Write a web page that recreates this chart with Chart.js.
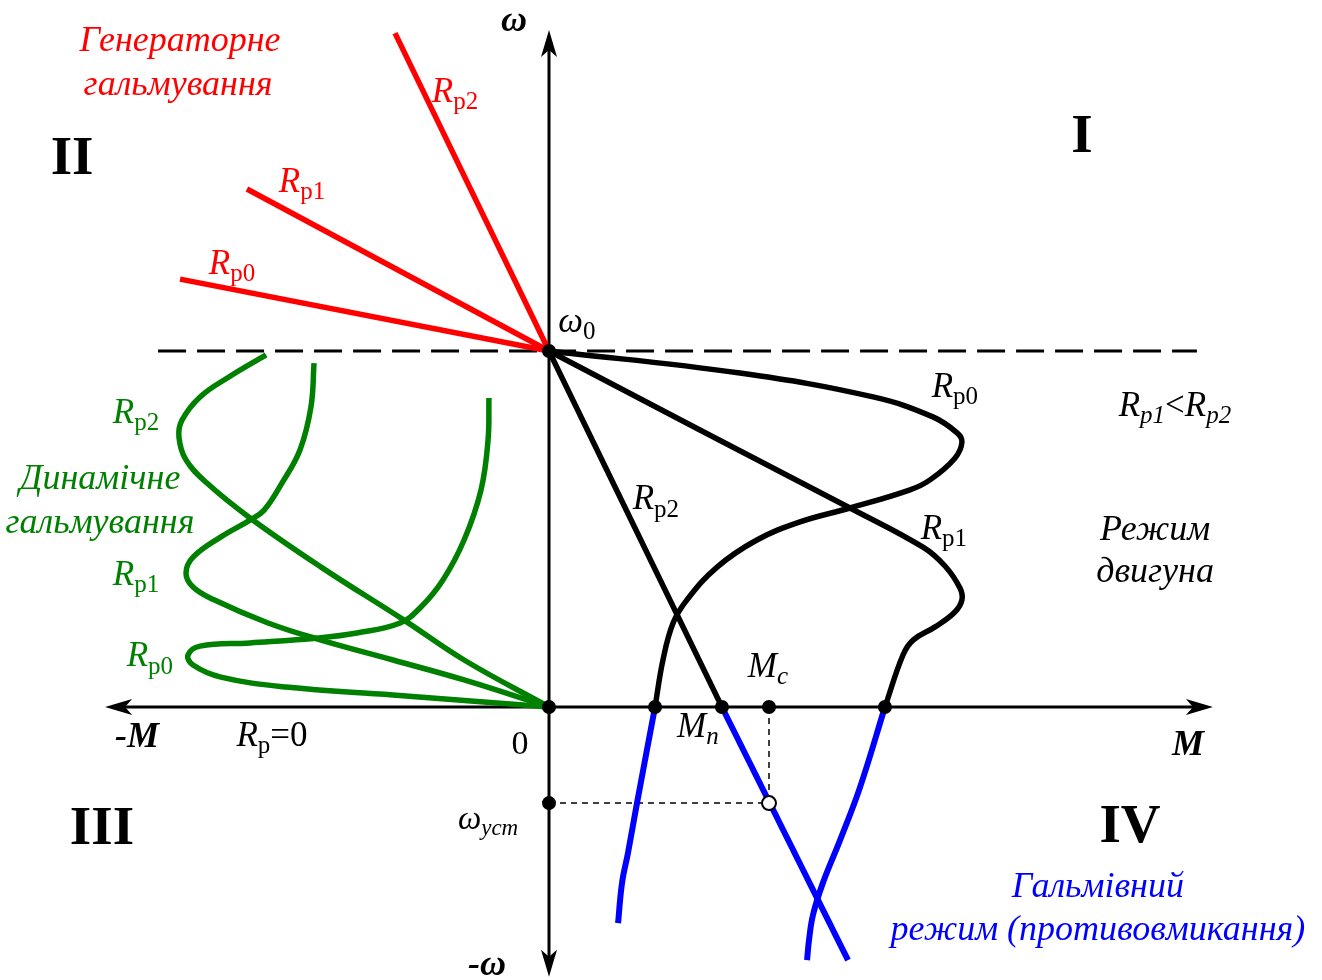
<!DOCTYPE html>
<html lang="uk">
<head>
<meta charset="utf-8">
<title>Механічні характеристики</title>
<script src="https://cdn.jsdelivr.net/npm/chart.js@4.4.1/dist/chart.umd.min.js"></script>
<style>
  html, body { margin: 0; padding: 0; background: #fff; }
  #wrap { width: 1322px; height: 980px; }
</style>
</head>
<body>
<div id="wrap"><canvas id="grafico" width="1322" height="980"></canvas></div>
<script>
// M по осі x, ω по осі y (ω0 = 1)
const w0 = 1;
const Mn = 0.786;
const Mc = 1.0;
const wUst = -0.270;

// генераторне гальмування (II квадрант)
const genRp0 = [[0, w0], [-1.677, 1.202]];
const genRp1 = [[0, w0], [-1.373, 1.455]];
const genRp2 = [[0, w0], [-0.700, 1.893]];

// режим двигуна (I квадрант)
const motRp0 = [[0, w0], [0.868, 0.938], [1.473, 0.871], [1.745, 0.815], [1.855, 0.770], [1.877, 0.744],
  [1.845, 0.699], [1.732, 0.638], [1.641, 0.610], [1.368, 0.559], [1.141, 0.520], [0.945, 0.469],
  [0.764, 0.393], [0.627, 0.301], [0.564, 0.236], [0.518, 0.132], [0.482, 0]];
const motRp1 = [[0, w0], [0.686, 0.778], [1.368, 0.559], [1.700, 0.449], [1.800, 0.396], [1.868, 0.334],
  [1.877, 0.301], [1.845, 0.267], [1.755, 0.225], [1.655, 0.188], [1.609, 0.146], [1.527, 0]];
const motRp2 = [[0, w0], [Mn, 0]];

// противовмикання (IV квадрант)
const protRp0 = [[0.482, 0], [0.400, -0.270], [0.359, -0.410], [0.332, -0.494], [0.314, -0.607]];
const protRp1 = [[1.527, 0], [1.414, -0.225], [1.323, -0.374], [1.245, -0.494], [1.200, -0.584],
  [1.182, -0.654], [1.173, -0.711]];
const protRp2 = [[Mn, 0], [1.359, -0.711]];

// динамічне гальмування (III квадрант, над віссю)
const dynRp0 = [[-0.273, 0.868], [-0.277, 0.750], [-0.309, 0.610], [-0.386, 0.469], [-0.482, 0.357],
  [-0.582, 0.281], [-0.677, 0.236], [-0.873, 0.208], [-1.050, 0.194], [-1.359, 0.180], [-1.586, 0.171],
  [-1.641, 0.146], [-1.618, 0.118], [-1.491, 0.084], [-1.195, 0.056], [-0.709, 0.034], [0, 0]];
const dynRp1 = [[-1.068, 0.966], [-1.082, 0.843], [-1.132, 0.722], [-1.214, 0.629], [-1.295, 0.553],
  [-1.359, 0.525], [-1.491, 0.478], [-1.618, 0.421], [-1.650, 0.376], [-1.618, 0.337], [-1.523, 0.301],
  [-1.277, 0.236], [-1.036, 0.188], [-0.709, 0.132], [-0.386, 0.076], [0, 0]];
const dynRp2 = [[-1.286, 0.989], [-1.455, 0.927], [-1.586, 0.871], [-1.668, 0.806], [-1.682, 0.758],
  [-1.650, 0.694], [-1.555, 0.629], [-1.359, 0.531], [-1.036, 0.393], [-0.659, 0.244], [-0.386, 0.132], [0, 0]];

const w0Line = [[-1.777, w0], [2.945, w0]];
const ustH = [[0, wUst], [Mc, wUst]];
const ustV = [[Mc, 0], [Mc, wUst]];
const dots = [[0, 0], [0.482, 0], [Mn, 0], [Mc, 0], [1.527, 0], [0, w0], [0, wUst]];
const openDot = [[Mc, wUst]];

const pts = arr => arr.map(p => ({ x: p[0], y: p[1] }));

const RED = '#ff0000', GREEN = '#008000', BLUE = '#0000ff', BLACK = '#000000';

function curve(data, color, tension, width) {
  return {
    data: pts(data),
    showLine: true,
    borderColor: color,
    borderWidth: width || 5.5,
    pointRadius: 0,
    tension: tension,
    order: 5
  };
}

// підписи: [текст, стиль]; i - курсив, r - прямий, b - жирний курсив, B - жирний, s - індекс, si - індекс курсивом
const labels = [
  { parts: [['ω', 'b']], x: -0.159, y: 1.924, color: BLACK, size: 36 },
  { parts: [['Генераторне', 'i']], x: -1.677, y: 1.868, color: RED, size: 36 },
  { parts: [['гальмування', 'i']], x: -1.686, y: 1.746, color: RED, size: 36 },
  { parts: [['II', 'B']], x: -2.168, y: 1.537, color: BLACK, size: 55 },
  { parts: [['I', 'B']], x: 2.423, y: 1.598, color: BLACK, size: 55 },
  { parts: [['III', 'B']], x: -2.032, y: -0.346, color: BLACK, size: 55 },
  { parts: [['IV', 'B']], x: 2.641, y: -0.340, color: BLACK, size: 55 },
  { parts: [['R', 'i'], ['p2', 's']], x: -0.427, y: 1.725, color: RED, size: 35 },
  { parts: [['R', 'i'], ['p1', 's']], x: -1.123, y: 1.472, color: RED, size: 35 },
  { parts: [['R', 'i'], ['p0', 's']], x: -1.441, y: 1.242, color: RED, size: 35 },
  { parts: [['ω', 'i'], ['0', 's']], x: 0.127, y: 1.079, color: BLACK, size: 35 },
  { parts: [['R', 'i'], ['p0', 's']], x: 1.845, y: 0.896, color: BLACK, size: 35 },
  { parts: [['R', 'i'], ['p1', 'si'], ['<', 'r'], ['R', 'i'], ['p2', 'si']], x: 2.845, y: 0.843, color: BLACK, size: 35 },
  { parts: [['R', 'i'], ['p2', 's']], x: 0.486, y: 0.581, color: BLACK, size: 35 },
  { parts: [['R', 'i'], ['p1', 's']], x: 1.795, y: 0.497, color: BLACK, size: 35 },
  { parts: [['Режим', 'i']], x: 2.755, y: 0.497, color: BLACK, size: 36 },
  { parts: [['двигуна', 'i']], x: 2.755, y: 0.379, color: BLACK, size: 36 },
  { parts: [['M', 'i'], ['c', 'si']], x: 0.995, y: 0.110, color: BLACK, size: 35 },
  { parts: [['M', 'i'], ['n', 'si']], x: 0.677, y: -0.059, color: BLACK, size: 35 },
  { parts: [['-M', 'b']], x: -1.873, y: -0.087, color: BLACK, size: 36 },
  { parts: [['R', 'i'], ['p', 's'], ['=0', 'r']], x: -1.259, y: -0.084, color: BLACK, size: 35 },
  { parts: [['0', 'r']], x: -0.132, y: -0.107, color: BLACK, size: 34 },
  { parts: [['M', 'b']], x: 2.905, y: -0.110, color: BLACK, size: 36 },
  { parts: [['ω', 'i'], ['уст', 'si']], x: -0.277, y: -0.317, color: BLACK, size: 33 },
  { parts: [['Гальмівний', 'i']], x: 2.495, y: -0.508, color: BLUE, size: 36 },
  { parts: [['режим (противовмикання)', 'i']], x: 2.495, y: -0.629, color: BLUE, size: 36 },
  { parts: [['-ω', 'b']], x: -0.282, y: -0.728, color: BLACK, size: 36 },
  { parts: [['R', 'i'], ['p2', 's']], x: -1.877, y: 0.823, color: GREEN, size: 35 },
  { parts: [['Динамічне', 'i']], x: -2.041, y: 0.638, color: GREEN, size: 36 },
  { parts: [['гальмування', 'i']], x: -2.041, y: 0.515, color: GREEN, size: 36 },
  { parts: [['R', 'i'], ['p1', 's']], x: -1.877, y: 0.368, color: GREEN, size: 35 },
  { parts: [['R', 'i'], ['p0', 's']], x: -1.814, y: 0.140, color: GREEN, size: 35 }
];

const FAMILY = '"Liberation Serif", "Times New Roman", serif';

function fontFor(kind, size) {
  const sub = kind === 's' || kind === 'si';
  const px = sub ? Math.round(size * 0.7) : size;
  let style = '';
  if (kind === 'i' || kind === 'si') style = 'italic ';
  if (kind === 'b') style = 'italic bold ';
  if (kind === 'B') style = 'bold ';
  return style + px + 'px ' + FAMILY;
}

function drawRich(ctx, lbl, cx, cy) {
  ctx.save();
  ctx.fillStyle = lbl.color;
  ctx.textBaseline = 'middle';
  ctx.textAlign = 'left';
  let total = 0;
  const widths = lbl.parts.map(p => {
    ctx.font = fontFor(p[1], lbl.size);
    const w = ctx.measureText(p[0]).width;
    total += w;
    return w;
  });
  let x = cx - total / 2;
  lbl.parts.forEach((p, i) => {
    ctx.font = fontFor(p[1], lbl.size);
    const sub = p[1] === 's' || p[1] === 'si';
    ctx.fillText(p[0], x, sub ? cy + lbl.size * 0.28 : cy);
    x += widths[i];
  });
  ctx.restore();
}

function arrowHead(ctx, tx, ty, dx, dy) {
  // наконечник стрілки: довжина 27, напівширина 8
  const L = 27, W = 8, N = 20;
  const nx = -dy, ny = dx;
  ctx.beginPath();
  ctx.moveTo(tx, ty);
  ctx.lineTo(tx - dx * L + nx * W, ty - dy * L + ny * W);
  ctx.lineTo(tx - dx * N, ty - dy * N);
  ctx.lineTo(tx - dx * L - nx * W, ty - dy * L - ny * W);
  ctx.closePath();
  ctx.fill();
}

const axesPlugin = {
  id: 'osi',
  beforeDatasetsDraw(chart) {
    const ctx = chart.ctx;
    const sx = chart.scales.x, sy = chart.scales.y;
    const x0 = sx.getPixelForValue(0), y0 = sy.getPixelForValue(0);
    const xl = sx.getPixelForValue(-2.018), xr = sx.getPixelForValue(3.018);
    const yt = sy.getPixelForValue(1.902), yb = sy.getPixelForValue(-0.758);
    ctx.save();
    ctx.strokeStyle = BLACK;
    ctx.fillStyle = BLACK;
    ctx.lineWidth = 3;
    ctx.beginPath();
    ctx.moveTo(xl + 10, y0); ctx.lineTo(xr - 10, y0);
    ctx.moveTo(x0, yt + 10); ctx.lineTo(x0, yb - 10);
    ctx.stroke();
    arrowHead(ctx, xl, y0, -1, 0);
    arrowHead(ctx, xr, y0, 1, 0);
    arrowHead(ctx, x0, yt, 0, -1);
    arrowHead(ctx, x0, yb, 0, 1);
    ctx.restore();
  },
  afterDatasetsDraw(chart) {
    const ctx = chart.ctx;
    const sx = chart.scales.x, sy = chart.scales.y;
    labels.forEach(l => drawRich(ctx, l, sx.getPixelForValue(l.x), sy.getPixelForValue(l.y)));
  }
};

const grafico = new Chart(document.getElementById('grafico'), {
  type: 'scatter',
  data: {
    datasets: [
      { data: pts(dots), pointRadius: 7, pointBackgroundColor: BLACK, pointBorderWidth: 0, order: 0 },
      { data: pts(openDot), pointRadius: 7, pointBackgroundColor: '#ffffff', pointBorderColor: BLACK, pointBorderWidth: 2, order: 0 },
      { data: pts(w0Line), showLine: true, borderColor: BLACK, borderWidth: 3, borderDash: [28, 11], pointRadius: 0, order: 8 },
      { data: pts(ustH), showLine: true, borderColor: BLACK, borderWidth: 1.5, borderDash: [6, 5], pointRadius: 0, order: 8 },
      { data: pts(ustV), showLine: true, borderColor: BLACK, borderWidth: 1.5, borderDash: [6, 5], pointRadius: 0, order: 8 },
      curve(genRp0, RED, 0),
      curve(genRp1, RED, 0),
      curve(genRp2, RED, 0),
      curve(motRp0, BLACK, 0.4),
      curve(motRp1, BLACK, 0.4),
      curve(motRp2, BLACK, 0),
      curve(protRp0, BLUE, 0.4, 6),
      curve(protRp1, BLUE, 0.4, 6),
      curve(protRp2, BLUE, 0, 6),
      curve(dynRp0, GREEN, 0.4),
      curve(dynRp1, GREEN, 0.4),
      curve(dynRp2, GREEN, 0.4)
    ]
  },
  options: {
    responsive: false,
    devicePixelRatio: 1,
    animation: false,
    layout: { padding: 0, autoPadding: false },
    plugins: { legend: { display: false }, tooltip: { enabled: false } },
    scales: {
      x: { type: 'linear', display: false, min: -549 / 220, max: 773 / 220 },
      y: { type: 'linear', display: false, min: -273 / 356, max: 707 / 356 }
    }
  },
  plugins: [axesPlugin]
});
</script>
</body>
</html>
